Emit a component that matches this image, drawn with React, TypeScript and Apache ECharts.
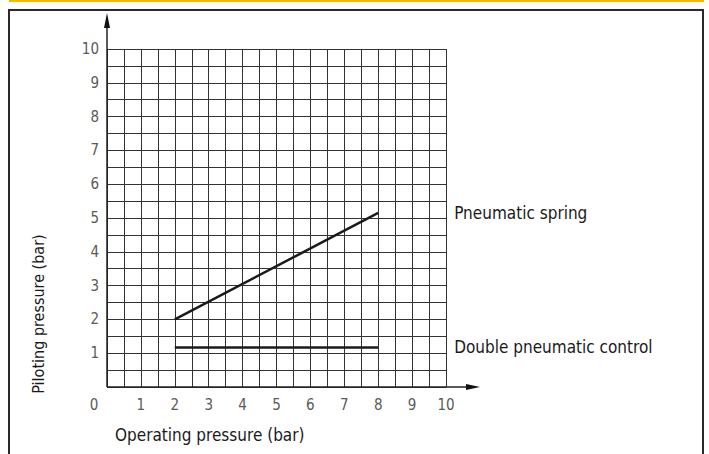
import React, { useEffect, useRef } from "react";
import * as echarts from "echarts";

const xTicks = [0, 1, 2, 3, 4, 5, 6, 7, 8, 9, 10];
const yTicks = [0, 1, 2, 3, 4, 5, 6, 7, 8, 9, 10];
const seriesNames = ["Pneumatic spring", "Double pneumatic control"];
const springX = [2, 8];
const springY = [2, 5.15];
const doubleX = [2, 8];
const doubleY = [1.17, 1.17];
const xAxisTitle = "Operating pressure (bar)";
const yAxisTitle = "Piloting pressure (bar)";

const FONT = "'Liberation Sans Narrow', 'DejaVu Sans Condensed', 'Roboto Condensed', sans-serif";

export default function App() {
  const ref = useRef<HTMLDivElement>(null);
  useEffect(() => {
    if (!ref.current) return;
    const chart = echarts.init(ref.current, null, { renderer: "svg" });
    const xMin = xTicks[0];
    const xMax = xTicks[xTicks.length - 1];
    const yMin = yTicks[0];
    const yMax = yTicks[yTicks.length - 1];
    const option: any = {
      animation: false,
      backgroundColor: "#ffffff",
      grid: { left: 107, top: 49, width: 339, height: 338 },
      xAxis: {
        type: "value",
        min: xMin,
        max: xMax,
        interval: 0.5,
        axisLine: { show: false },
        axisTick: { show: false },
        splitLine: { show: true, lineStyle: { color: "#333", width: 1 } },
        axisLabel: {
          margin: 10,
          color: "#5a5a5a",
          fontFamily: FONT,
          fontSize: 15,
          formatter: (v: number) => {
            if (!xTicks.includes(v)) return "";
            if (v === 0) return "{z|0}";
            return String(v);
          },
          rich: { z: { padding: [0, 26, 0, 0], color: "#5a5a5a", fontFamily: FONT, fontSize: 15 } },
        },
      },
      yAxis: {
        type: "value",
        min: yMin,
        max: yMax,
        interval: 0.5,
        axisLine: { show: false },
        axisTick: { show: false },
        splitLine: { show: true, lineStyle: { color: "#333", width: 1 } },
        axisLabel: {
          margin: 8,
          color: "#5a5a5a",
          fontFamily: FONT,
          fontSize: 15,
          formatter: (v: number) => (yTicks.includes(v) && v !== 0 ? String(v) : ""),
        },
      },
      series: [
        {
          name: seriesNames[0],
          type: "line",
          data: springX.map((x, i) => [x, springY[i]]),
          symbol: "none",
          lineStyle: { color: "#1a1a1a", width: 2.5 },
          endLabel: {
            show: true,
            formatter: seriesNames[0],
            distance: 76,
            color: "#1a1a1a",
            fontFamily: FONT,
            fontSize: 17,
          },
        },
        {
          name: seriesNames[1],
          type: "line",
          data: doubleX.map((x, i) => [x, doubleY[i]]),
          symbol: "none",
          lineStyle: { color: "#1a1a1a", width: 2.5 },
          endLabel: {
            show: true,
            formatter: seriesNames[1],
            distance: 76,
            color: "#1a1a1a",
            fontFamily: FONT,
            fontSize: 17,
          },
        },
      ],
    };
    chart.setOption(option);

    const o = chart.convertToPixel({ gridIndex: 0 }, [xMin, yMin]) as number[];
    const xe = chart.convertToPixel({ gridIndex: 0 }, [xMax, yMin]) as number[];
    const ye = chart.convertToPixel({ gridIndex: 0 }, [xMin, yMax]) as number[];
    const xTip = xe[0] + 34;
    const yTip = ye[1] - 36;
    chart.setOption({
      graphic: [
        { type: "rect", shape: { x: 9, y: 0, width: 695, height: 2 }, style: { fill: "#F5B800" }, silent: true },
        { type: "rect", shape: { x: 9, y: 10, width: 694, height: 470 }, style: { fill: "none", stroke: "#2a2a2a", lineWidth: 2 }, silent: true },
        { type: "line", shape: { x1: o[0], y1: o[1], x2: xTip - 6, y2: o[1] }, style: { stroke: "#222", lineWidth: 1.5 } },
        { type: "line", shape: { x1: o[0], y1: o[1], x2: o[0], y2: yTip + 6 }, style: { stroke: "#222", lineWidth: 1.5 } },
        { type: "polygon", shape: { points: [[xTip, o[1]], [xTip - 14, o[1] - 3], [xTip - 14, o[1] + 3]] }, style: { fill: "#111" } },
        { type: "polygon", shape: { points: [[o[0], yTip], [o[0] - 3, yTip + 15], [o[0] + 3, yTip + 15]] }, style: { fill: "#111" } },
        {
          type: "text",
          x: 115,
          y: 435,
          style: { text: xAxisTitle, fill: "#1a1a1a", font: `17px ${FONT}`, verticalAlign: "middle", align: "left" },
        },
        {
          type: "text",
          x: 38,
          y: 314,
          rotation: Math.PI / 2,
          style: { text: yAxisTitle, fill: "#1a1a1a", font: `16px ${FONT}`, verticalAlign: "middle", align: "center" },
        },
      ],
    });
    return () => chart.dispose();
  }, []);
  return <div ref={ref} style={{ position: "fixed", left: 0, top: 0, width: 709, height: 454 }} />;
}
